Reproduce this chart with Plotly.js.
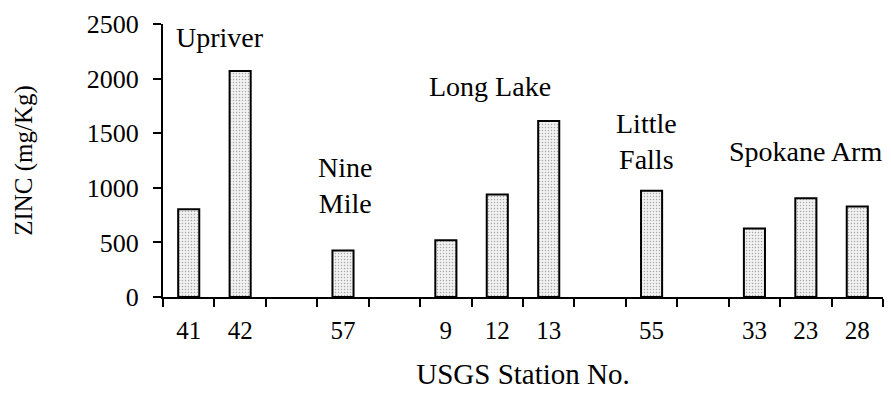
<!DOCTYPE html>
<html>
<head>
<meta charset="utf-8">
<script src="https://cdn.plot.ly/plotly-3.0.1.min.js"></script>
<style>html,body{margin:0;padding:0;background:#fff;}</style>
</head>
<body>
<div id="chart" style="width:891px;height:393px;"></div>
<script>
// Data
const stations = ['41', '42', '57', '9', '12', '13', '55', '33', '23', '28'];
const zinc = [804, 2069, 425, 520, 939, 1611, 972, 627, 905, 829];
// Slot order along the x axis (blank slots separate the reaches)
const slotOrder = ['41', '42', ' ', '57', '  ', '9', '12', '13', '   ', '55', '    ', '33', '23', '28'];
const yTicks = [0, 500, 1000, 1500, 2000, 2500];
const reachNames = ['Upriver', 'Nine<br>Mile', 'Long Lake', 'Little<br>Falls', 'Spokane Arm'];
const reachX = [0.6, 3.03, 5.85, 8.91, 11.99];
const reachY = [2372, 1024, 1932, 1427, 1336];

const font = 'Liberation Serif, Times New Roman, serif';

const trace = {
  type: 'bar',
  x: stations,
  y: zinc,
  width: 0.41,
  marker: {
    color: '#e6e6e6',
    line: {color: '#000', width: 2},
    pattern: {shape: '.', size: 3, solidity: 0.2, fgcolor: '#a8a8a8', bgcolor: '#f2f2f2'}
  },
  hoverinfo: 'x+y'
};

const annotations = reachNames.map((t, i) => ({
  text: t, x: reachX[i], y: reachY[i], xref: 'x', yref: 'y',
  showarrow: false, xanchor: 'center', yanchor: 'middle',
  font: {family: font, size: 28, color: '#000'}
}));

const layout = {
  width: 891, height: 393,
  margin: {l: 163.3, r: 7.7, t: 24, b: 96.3},
  paper_bgcolor: '#fff', plot_bgcolor: '#fff',
  showlegend: false,
  font: {family: font, color: '#000'},
  xaxis: {
    type: 'category',
    categoryorder: 'array', categoryarray: slotOrder,
    range: [-0.5, 13.5],
    tickson: 'boundaries',
    ticks: 'outside', ticklen: 8, tickwidth: 2, tickcolor: '#000',
    ticklabelstandoff: 10,
    showline: true, linecolor: '#000', linewidth: 2,
    showgrid: false, zeroline: false,
    tickfont: {family: font, size: 25, color: '#000'},
    title: {text: 'USGS Station No.', font: {family: font, size: 29, color: '#000'}, standoff: 21}
  },
  yaxis: {
    range: [0, 2500],
    tickvals: yTicks,
    ticktext: yTicks.map(String),
    ticks: 'outside', ticklen: 8, tickwidth: 2, tickcolor: '#000',
    ticklabelstandoff: 9,
    showline: true, linecolor: '#000', linewidth: 2,
    showgrid: false, zeroline: false,
    tickfont: {family: font, size: 26, color: '#000'},
    title: {text: 'ZINC (mg/Kg)', font: {family: font, size: 25, color: '#000'}, standoff: 47}
  },
  annotations: annotations
};

Plotly.newPlot('chart', [trace], layout, {displayModeBar: false, staticPlot: true});
</script>
</body>
</html>
